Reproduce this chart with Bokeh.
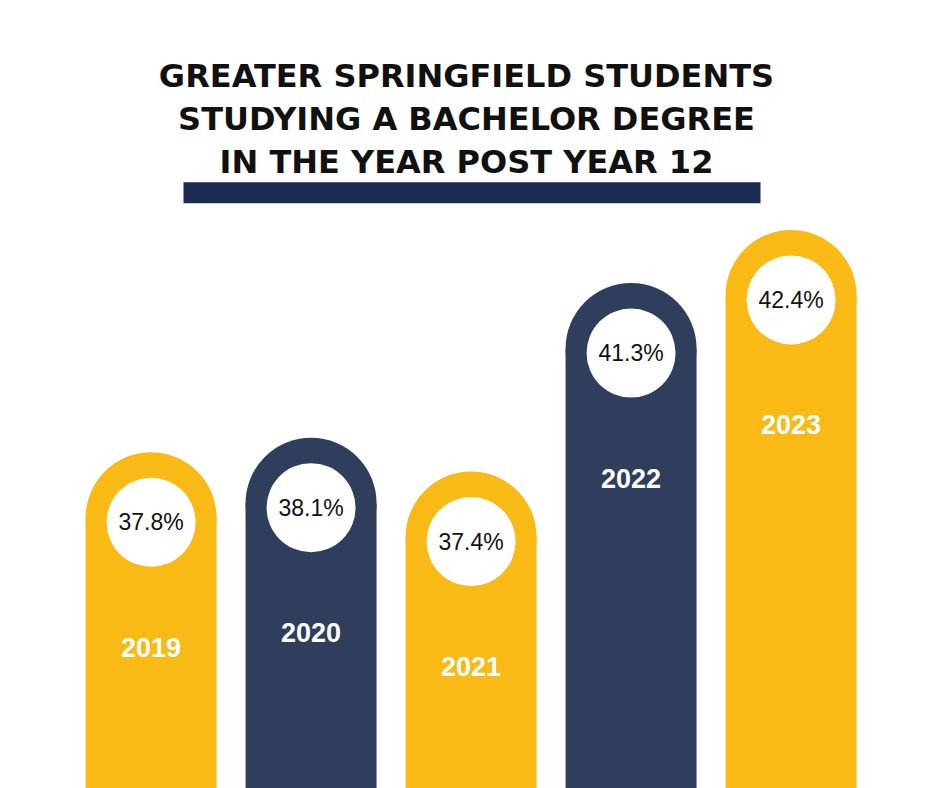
from bokeh.plotting import figure
from bokeh.models import Range1d
from bokeh.core.properties import value
from bokeh.embed import file_html
from bokeh.resources import INLINE

# ---- data ----
years = [2019, 2020, 2021, 2022, 2023]
year_labels = ["2019", "2020", "2021", "2022", "2023"]
shares = [37.8, 38.1, 37.4, 41.3, 42.4]
pct_labels = ["37.8%", "38.1%", "37.4%", "41.3%", "42.4%"]
title_lines = [
    "GREATER SPRINGFIELD STUDENTS",
    "STUDYING A BACHELOR DEGREE",
    "IN THE YEAR POST YEAR 12",
]

# ---- styles ----
YELLOW = "#F9BA16"
NAVY = "#2F3E5C"
RULE = "#1B2B4F"
bar_colors = [YELLOW, NAVY, YELLOW, NAVY, YELLOW]

W, H = 940, 788
X0, X1 = 2018.059, 2023.934
Y0, Y1 = 30.842, 47.147
ppx = W / (X1 - X0)   # pixels per year unit
ppy = H / (Y1 - Y0)   # pixels per percent unit


def fx(px):
    return X0 + px / ppx


def fy(py):
    # py measured from top of figure
    return Y1 - py / ppy


p = figure(width=W, height=H, x_range=Range1d(X0, X1), y_range=Range1d(Y0, Y1),
           output_backend="svg", toolbar_location=None,
           x_axis_location=None, y_axis_location=None, min_border=0)
p.grid.visible = False
p.outline_line_color = None
p.background_fill_color = "white"
p.border_fill_color = "white"

bar_w_px = 131
r_x = (bar_w_px / 2) / ppx
r_y = (bar_w_px / 2) / ppy
circle_off = 70 / ppy
year_off = 195 / ppy

tops = [v - r_y for v in shares]
p.vbar(x=years, width=bar_w_px / ppx, bottom=Y0 - 2, top=tops,
       fill_color=bar_colors, line_color=None)
p.circle(x=years, y=tops, radius=r_x, fill_color=bar_colors, line_color=None)

# white value discs
disc_y = [v - circle_off for v in shares]
p.circle(x=years, y=disc_y, radius=44.5 / ppx, fill_color="white", line_color=None)
p.text(x=years, y=disc_y, text=pct_labels, text_align="center", text_baseline="middle",
       text_font=value("Liberation Sans"), text_font_size="23px", text_color="#111111")

# year labels
p.text(x=years, y=[v - year_off for v in shares], text=year_labels,
       text_align="center", text_baseline="middle",
       text_font=value("Liberation Sans"), text_font_style="bold",
       text_font_size="27px", text_color="white")

# title
title_base_px = [75, 118.3, 161.7]
p.text(x=[fx(466)] * 3, y=[fy(b) for b in title_base_px], text=title_lines,
       text_align="center", text_baseline="alphabetic",
       text_font=value("DejaVu Sans"), text_font_style="bold",
       text_font_size="32px", text_color="#111111")

# rule under title
p.quad(left=[fx(183)], right=[fx(760)], top=[fy(181.7)], bottom=[fy(202.7)],
       fill_color=RULE, line_color=None)

open("out.html", "w").write(file_html(p, INLINE))
